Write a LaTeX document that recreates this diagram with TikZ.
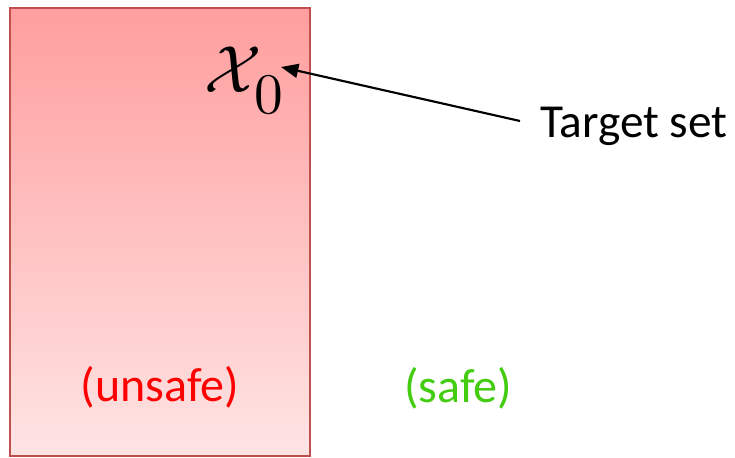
\documentclass[tikz,border=0pt]{standalone}
\usepackage{fontspec}
\setmainfont{Carlito}
\usetikzlibrary{arrows.meta}
\definecolor{boxborder}{HTML}{C0504D}
\definecolor{unsafered}{HTML}{FF0000}
\definecolor{safegreen}{HTML}{44CC11}
\tikzset{
  lbl/.style={inner sep=0pt, anchor=base},
  conn/.style={line width=1.6pt, -{Triangle[length=13pt,width=10.5pt]}}
}
\begin{document}
\begin{tikzpicture}[x=0.75pt,y=-0.75pt]
\useasboundingbox (0,0) rectangle (735,457);
\shade[top color={rgb,255:red,255;green,158;blue,158}, bottom color={rgb,255:red,255;green,228;blue,228}] (10,7.5) rectangle (310,455.5);
\draw[boxborder, line width=1.5pt] (10,7.5) rectangle (310,455.5);
\node[lbl, anchor=base west] (x0) at (204,92) {\scalebox{5}{$\mathcal{X}$}\hspace{-5pt}\raisebox{-15.75pt}{\scalebox{4.3}{$0$}}};
\coordinate (tip) at (281,67);
\node[lbl, anchor=base west] (target) at (540,137) {\fontsize{35.5}{36}\selectfont Target set};
\draw[conn] (520,121) -- (tip);
\node[lbl, text=unsafered] (unsafe) at (160,401) {\fontsize{36}{36}\selectfont (unsafe)};
\node[lbl, text=safegreen] (safe) at (458,402) {\fontsize{36}{36}\selectfont (safe)};
\end{tikzpicture}
\end{document}
